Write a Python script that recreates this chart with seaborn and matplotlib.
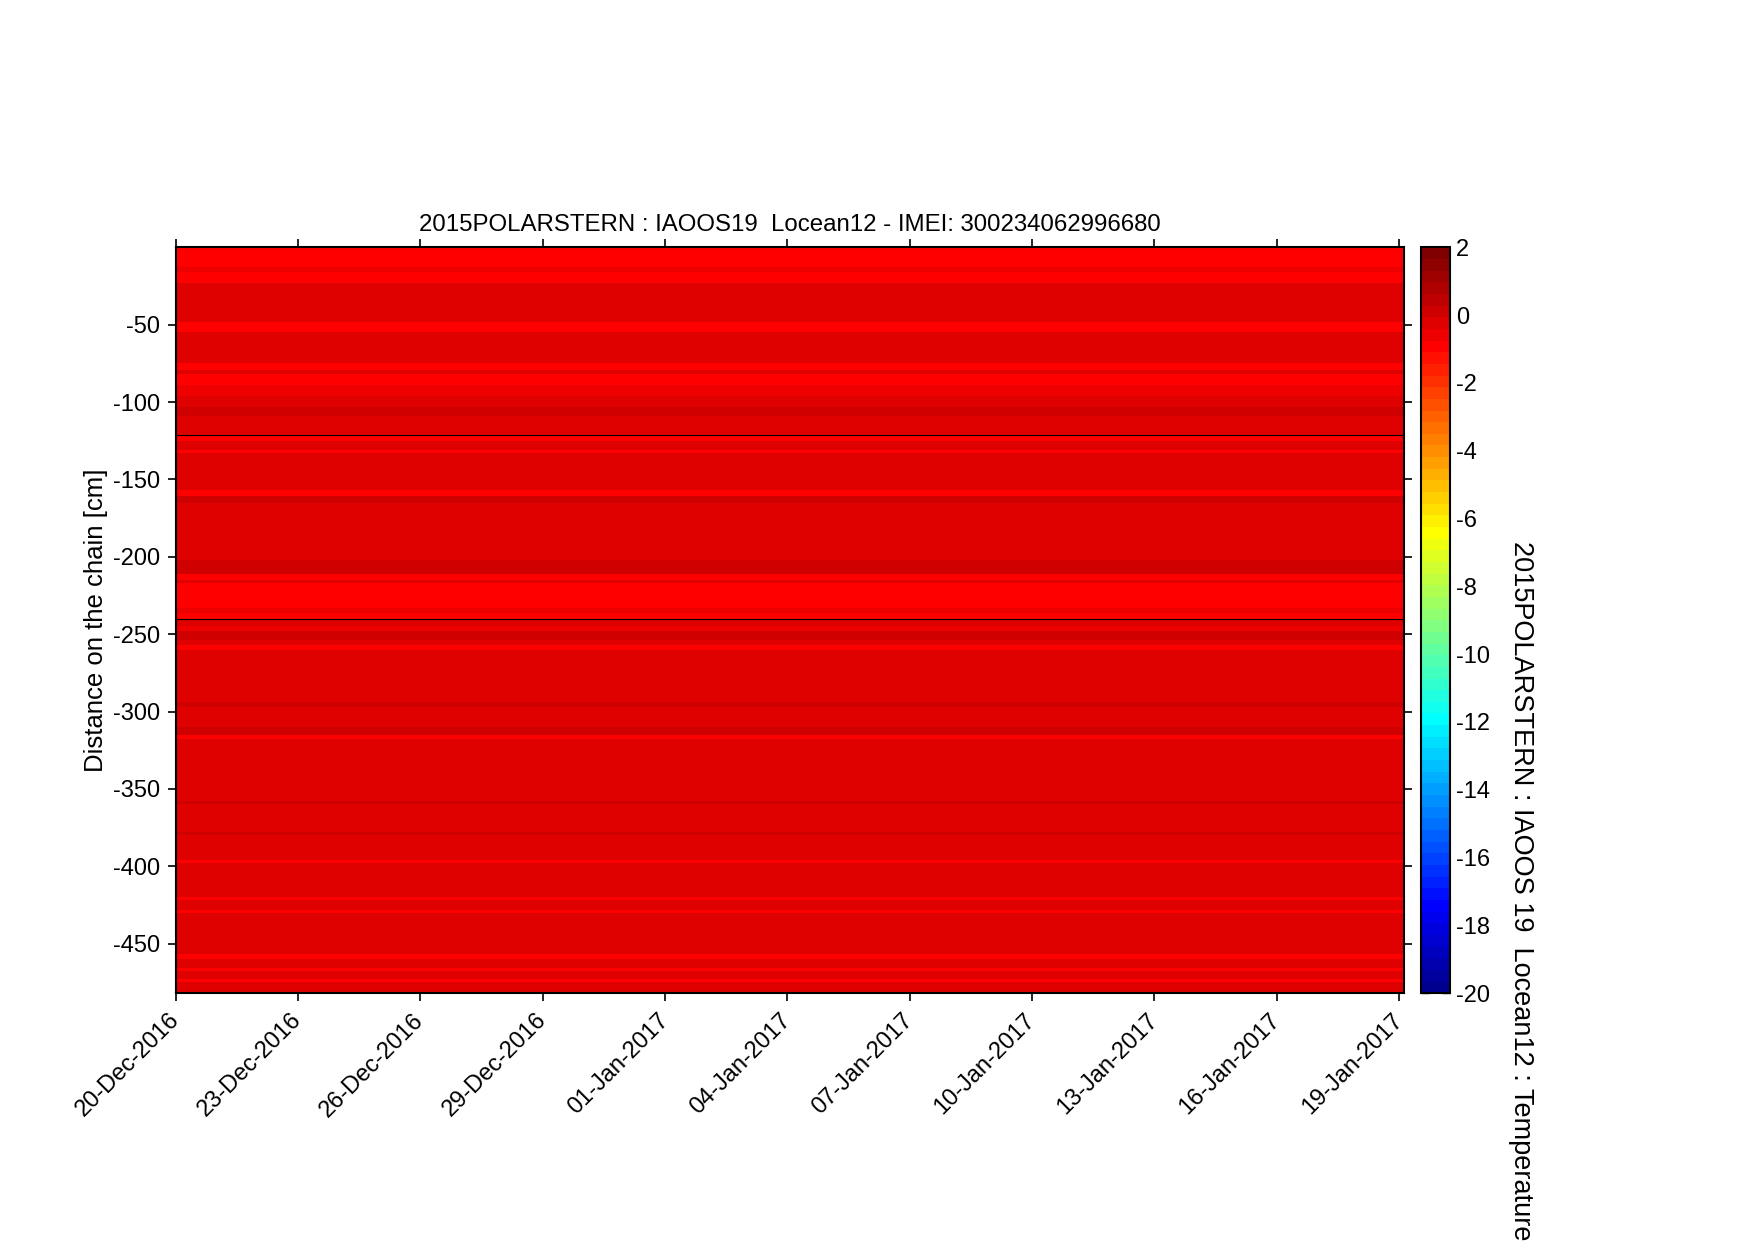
"""Ice-mass-balance chain temperature section, IAOOS19 / Locean12."""

import matplotlib

matplotlib.use("Agg")

import matplotlib.pyplot as plt
import numpy as np
import pandas as pd
import seaborn as sns
from matplotlib.colors import ListedColormap

# depth of the top of each band on the chain [cm, below the chain head]
band_top = [0, 13, 16, 23, 48, 55, 75, 79, 82, 89, 96, 103, 109, 121, 125, 131,
            133, 157, 161, 165, 202, 211, 215, 217, 233, 236, 240, 245, 248, 254,
            257, 260, 294, 297, 310, 315, 318, 358, 360, 378, 380, 396, 398, 420,
            422, 428, 430, 457, 460, 466, 468, 473, 475]
# temperature of each band [deg C]
band_temp = [-0.9, -0.6, -0.9, -0.25, -0.9, -0.25, -0.9, -0.25, -0.9, -0.6,
             -0.25, 0.1, -0.25, -0.9, -0.25, -0.9, -0.25, -0.9, 0.1, -0.25,
             0.1, -0.9, -0.25, -0.9, -0.6, -0.9, -0.25, -0.6, 0.1, -0.25,
             -0.9, -0.25, 0.1, -0.25, 0.1, -0.9, -0.25, 0.1, -0.25, 0.1,
             -0.25, -0.9, -0.25, -0.9, -0.25, -0.9, -0.25, -0.9, -0.25, -0.9,
             -0.25, -0.9, -0.25]
chain_length = 482          # cm
section_breaks = [-121, -240]

start = "2016-12-20 00:00"
n_steps = 241               # 3-hourly records
step_hours = 3

y_ticks = [-50, -100, -150, -200, -250, -300, -350, -400, -450]
x_ticks = pd.date_range("2016-12-20", "2017-01-19", freq="3D")
cbar_ticks = list(range(-20, 3, 2))

title = "2015POLARSTERN : IAOOS19  Locean12 - IMEI: 300234062996680"
cbar_label = "2015POLARSTERN : IAOOS 19  Locean12 : Temperature"


def matlab_jet(m=64):
    n = int(np.ceil(m / 4))
    u = np.r_[np.arange(1, n + 1) / n, np.ones(n - 1), np.arange(n, 0, -1) / n]
    g = int(np.ceil(n / 2)) - int(m % 4 == 1) + np.arange(1, len(u) + 1)
    r = g + n
    b = g - n
    jet = np.zeros((m, 3))
    jet[r[r <= m] - 1, 0] = u[r <= m]
    jet[g[g <= m] - 1, 1] = u[g <= m]
    jet[b[b >= 1] - 1, 2] = u[b >= 1]
    return ListedColormap(jet)


# build the depth x time grid (1 cm rows)
depth = np.arange(chain_length) + 0.5
idx = np.searchsorted(band_top, depth, side="right") - 1
profile = np.asarray(band_temp)[idx]
times = pd.date_range(start, periods=n_steps, freq=f"{step_hours}h")
grid = pd.DataFrame(np.repeat(profile[:, None], n_steps, axis=1),
                    index=-depth, columns=times)

sns.set_theme(style="ticks")
plt.rcParams["font.family"] = ["Liberation Sans", "DejaVu Sans"]
plt.rcParams["text.color"] = "black"
plt.rcParams["axes.labelcolor"] = "black"
plt.rcParams["xtick.color"] = "black"
plt.rcParams["ytick.color"] = "black"

fig = plt.figure(figsize=(17.56, 12.43), dpi=100)
ax = fig.add_axes([0.100, 0.201, 0.6997, 0.6000])
cax = fig.add_axes([0.8093, 0.201, 0.0166, 0.6000])

sns.heatmap(grid, ax=ax, cmap=matlab_jet(64), vmin=-20, vmax=2,
            cbar_ax=cax, xticklabels=False, yticklabels=False)

t0 = times[0]
dt = pd.Timedelta(hours=step_hours)
ax.set_xticks([(t - t0) / dt for t in x_ticks])
ax.set_xticklabels([t.strftime("%d-%b-%Y") for t in x_ticks],
                   rotation=45, ha="right", va="center",
                   rotation_mode="anchor", fontsize=17)
ax.set_yticks([-v for v in y_ticks])
ax.set_yticklabels([str(v) for v in y_ticks], rotation=0, fontsize=17)
for yb in section_breaks:
    ax.axhline(-yb, color="black", lw=0.8)

for s in ax.spines.values():
    s.set_visible(True)
    s.set_color("black")
    s.set_linewidth(1.5)
ax.tick_params(direction="out", top=True, right=True, bottom=True, left=True,
               length=6, width=1.2, color="black", pad=5)
ax.tick_params(axis="x", pad=11)
ax.set_xlabel("")
ax.set_ylabel("Distance on the chain [cm]", fontsize=18.5, labelpad=4)
ax.set_title(title, fontsize=17.3, pad=12)

cbar = ax.collections[0].colorbar
cbar.set_ticks(cbar_ticks)
cbar.set_ticklabels([str(v) for v in cbar_ticks])
cbar.outline.set_visible(True)
cbar.outline.set_linewidth(1.5)
cbar.outline.set_edgecolor("black")
cax.tick_params(direction="in", left=True, right=True, length=6, width=1.0,
                color="black", labelsize=17, pad=4)

fig.text(0.866, 0.565, cbar_label, rotation=270, ha="center", va="top",
         fontsize=19.5)

fig.savefig("out.png", dpi=100, facecolor="white")
